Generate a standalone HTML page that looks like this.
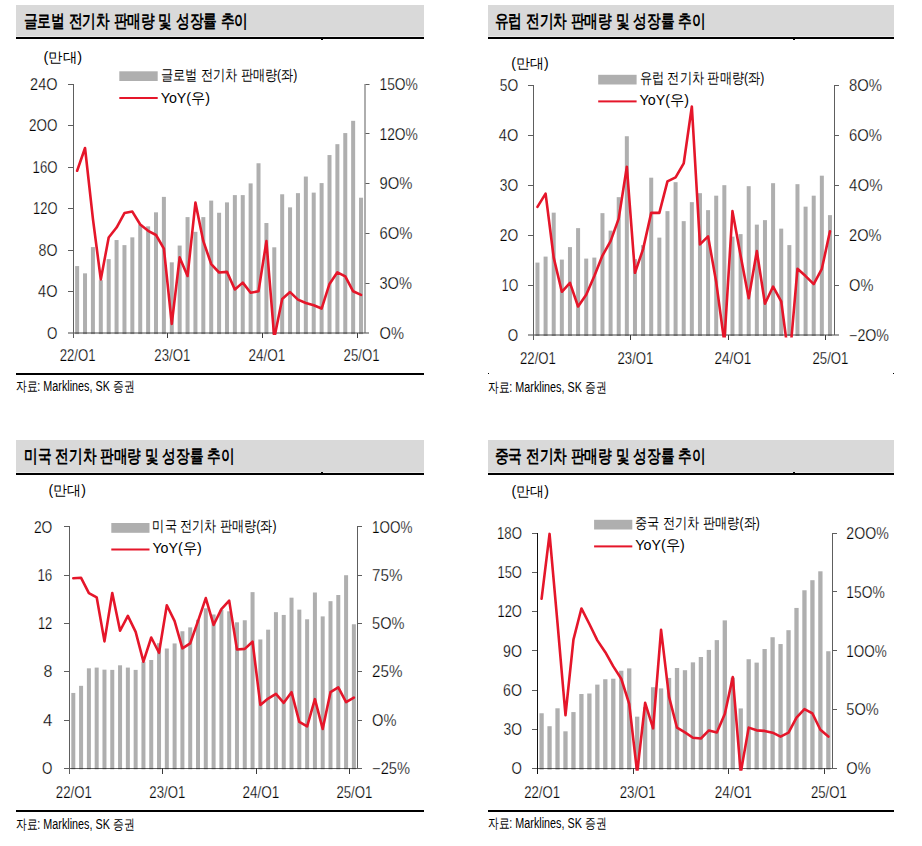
<!DOCTYPE html>
<html><head><meta charset="utf-8"><title>EV sales charts</title>
<style>
html,body{margin:0;padding:0;background:#fff;}
body{width:922px;height:846px;overflow:hidden;position:relative;font-family:"Liberation Sans", sans-serif;}
svg{position:absolute;left:0;top:0;}
svg text{font-family:"Liberation Sans", sans-serif;fill:#000;}
svg text.n{stroke:#fff;stroke-width:0.25px;}
</style></head>
<body>
<svg width="922" height="846" viewBox="0 0 922 846">
<rect x="16" y="5" width="408" height="31" fill="#d9d9d9"/>
<rect x="16" y="36" width="408" height="1" fill="#e9e9e9"/>
<rect x="16" y="37" width="408" height="2" fill="#000"/>
<text x="23.799999999999997" y="26.9" font-size="18" font-weight="bold" textLength="224.39999999999998" lengthAdjust="spacingAndGlyphs">글로벌 전기차 판매량 및 성장률 추이</text>
<text x="43.4" y="61.7" font-size="14" textLength="38.6" lengthAdjust="spacingAndGlyphs">(만대)</text>
<rect x="75.14" y="266.08" width="4.0" height="68.02" fill="#afafaf"/>
<rect x="83.03" y="273.34" width="4.0" height="60.76" fill="#afafaf"/>
<rect x="90.92" y="247.09" width="4.0" height="87.01" fill="#afafaf"/>
<rect x="98.8" y="280.19" width="4.0" height="53.91" fill="#afafaf"/>
<rect x="106.69" y="259.13" width="4.0" height="74.97" fill="#afafaf"/>
<rect x="114.57" y="240.04" width="4.0" height="94.06" fill="#afafaf"/>
<rect x="122.46" y="245.12" width="4.0" height="88.98" fill="#afafaf"/>
<rect x="130.34" y="237.34" width="4.0" height="96.76" fill="#afafaf"/>
<rect x="138.23" y="224.37" width="4.0" height="109.73" fill="#afafaf"/>
<rect x="146.12" y="226.34" width="4.0" height="107.76" fill="#afafaf"/>
<rect x="154" y="212.33" width="4.0" height="121.77" fill="#afafaf"/>
<rect x="161.89" y="196.88" width="4.0" height="137.22" fill="#afafaf"/>
<rect x="169.78" y="262.34" width="4.0" height="71.76" fill="#afafaf"/>
<rect x="177.66" y="245.54" width="4.0" height="88.56" fill="#afafaf"/>
<rect x="185.55" y="217.11" width="4.0" height="116.99" fill="#afafaf"/>
<rect x="193.43" y="231.84" width="4.0" height="102.26" fill="#afafaf"/>
<rect x="201.32" y="217.11" width="4.0" height="116.99" fill="#afafaf"/>
<rect x="209.2" y="200.61" width="4.0" height="133.49" fill="#afafaf"/>
<rect x="217.09" y="212.75" width="4.0" height="121.35" fill="#afafaf"/>
<rect x="224.98" y="202.38" width="4.0" height="131.73" fill="#afafaf"/>
<rect x="232.86" y="195.11" width="4.0" height="138.99" fill="#afafaf"/>
<rect x="240.75" y="195.11" width="4.0" height="138.99" fill="#afafaf"/>
<rect x="248.63" y="183.39" width="4.0" height="150.71" fill="#afafaf"/>
<rect x="256.52" y="163.26" width="4.0" height="170.84" fill="#afafaf"/>
<rect x="264.41" y="223.02" width="4.0" height="111.08" fill="#afafaf"/>
<rect x="272.29" y="247.3" width="4.0" height="86.8" fill="#afafaf"/>
<rect x="280.18" y="194.28" width="4.0" height="139.82" fill="#afafaf"/>
<rect x="288.06" y="207.36" width="4.0" height="126.75" fill="#afafaf"/>
<rect x="295.95" y="193.14" width="4.0" height="140.96" fill="#afafaf"/>
<rect x="303.84" y="176.54" width="4.0" height="157.56" fill="#afafaf"/>
<rect x="311.72" y="192.62" width="4.0" height="141.48" fill="#afafaf"/>
<rect x="319.61" y="183.08" width="4.0" height="151.02" fill="#afafaf"/>
<rect x="327.5" y="155.06" width="4.0" height="179.04" fill="#afafaf"/>
<rect x="335.38" y="144.17" width="4.0" height="189.93" fill="#afafaf"/>
<rect x="343.27" y="133.07" width="4.0" height="201.03" fill="#afafaf"/>
<rect x="351.15" y="120.83" width="4.0" height="213.27" fill="#afafaf"/>
<rect x="359.04" y="197.71" width="4.0" height="136.39" fill="#afafaf"/>
<rect x="68" y="332" width="301" height="2" fill="#000" fill-opacity="0.36"/>
<rect x="73" y="84" width="1" height="254" fill="#5e5e5e"/>
<text class="n" x="57.5" y="338.8" font-size="16" text-anchor="end" textLength="10.4" lengthAdjust="spacingAndGlyphs">O</text>
<rect x="68" y="291" width="5" height="1" fill="#5e5e5e"/>
<text class="n" x="57.5" y="297.3" font-size="16" text-anchor="end" textLength="19.4" lengthAdjust="spacingAndGlyphs">4O</text>
<rect x="68" y="250" width="5" height="1" fill="#5e5e5e"/>
<text class="n" x="57.5" y="255.8" font-size="16" text-anchor="end" textLength="18.9" lengthAdjust="spacingAndGlyphs">8O</text>
<rect x="68" y="208" width="5" height="1" fill="#5e5e5e"/>
<text class="n" x="57.5" y="214.3" font-size="16" text-anchor="end" textLength="24.4" lengthAdjust="spacingAndGlyphs">12O</text>
<rect x="68" y="167" width="5" height="1" fill="#5e5e5e"/>
<text class="n" x="57.5" y="172.8" font-size="16" text-anchor="end" textLength="24.9" lengthAdjust="spacingAndGlyphs">16O</text>
<rect x="68" y="125" width="5" height="1" fill="#5e5e5e"/>
<text class="n" x="57.5" y="131.3" font-size="16" text-anchor="end" textLength="28.4" lengthAdjust="spacingAndGlyphs">2OO</text>
<rect x="68" y="84" width="5" height="1" fill="#5e5e5e"/>
<text class="n" x="57.5" y="89.8" font-size="16" text-anchor="end" textLength="27.4" lengthAdjust="spacingAndGlyphs">24O</text>
<rect x="364.5" y="84" width="1" height="249" fill="#5e5e5e"/>
<text class="n" x="379.5" y="338.8" font-size="16" textLength="24.4" lengthAdjust="spacingAndGlyphs">O%</text>
<rect x="365.5" y="283" width="4" height="1" fill="#5e5e5e"/>
<text class="n" x="379.5" y="289" font-size="16" textLength="32.4" lengthAdjust="spacingAndGlyphs">3O%</text>
<rect x="365.5" y="233" width="4" height="1" fill="#5e5e5e"/>
<text class="n" x="379.5" y="239.2" font-size="16" textLength="32.9" lengthAdjust="spacingAndGlyphs">6O%</text>
<rect x="365.5" y="183" width="4" height="1" fill="#5e5e5e"/>
<text class="n" x="379.5" y="189.4" font-size="16" textLength="32.9" lengthAdjust="spacingAndGlyphs">9O%</text>
<rect x="365.5" y="133" width="4" height="1" fill="#5e5e5e"/>
<text class="n" x="379.5" y="139.6" font-size="16" textLength="38.4" lengthAdjust="spacingAndGlyphs">12O%</text>
<rect x="365.5" y="84" width="4" height="1" fill="#5e5e5e"/>
<text class="n" x="379.5" y="89.8" font-size="16" textLength="38.4" lengthAdjust="spacingAndGlyphs">15O%</text>
<text class="n" x="77.64" y="361" font-size="16" text-anchor="middle" textLength="35.9" lengthAdjust="spacingAndGlyphs">22/O1</text>
<rect x="167" y="333" width="1" height="5" fill="#3a3a3a"/>
<text class="n" x="172.28" y="361" font-size="16" text-anchor="middle" textLength="35.9" lengthAdjust="spacingAndGlyphs">23/O1</text>
<rect x="262" y="333" width="1" height="5" fill="#3a3a3a"/>
<text class="n" x="266.91" y="361" font-size="16" text-anchor="middle" textLength="36.9" lengthAdjust="spacingAndGlyphs">24/O1</text>
<rect x="357" y="333" width="1" height="5" fill="#3a3a3a"/>
<text class="n" x="361.54" y="361" font-size="16" text-anchor="middle" textLength="35.9" lengthAdjust="spacingAndGlyphs">25/O1</text>
<clipPath id="clc1"><rect x="70.2" y="74.1" width="297.78" height="260.9"/></clipPath>
<polyline clip-path="url(#clc1)" points="77.14,170.75 85.03,148.01 92.92,218.89 100.8,279.48 108.69,237.48 116.57,227.52 124.46,213.08 132.34,211.59 140.23,224.54 148.12,230.84 156,234.99 163.89,248.61 171.78,323.97 179.66,257.4 187.55,276 195.43,202.62 203.32,241.14 211.2,264.04 219.09,272.51 226.98,271.85 234.86,289.44 242.75,282.64 250.63,292.76 258.52,291.27 266.41,241.14 274.29,338.08 282.18,298.9 290.06,292.1 297.95,299.57 305.84,303.05 313.72,305.21 321.61,308.53 329.5,283.96 337.38,272.34 345.27,276.33 353.15,291.27 361.04,294.92" fill="none" stroke="#e5162a" stroke-width="2.6" stroke-linejoin="round" stroke-linecap="round"/>
<rect x="119.3" y="71.3" width="38.4" height="9.7" fill="#afafaf"/>
<text x="160.70000000000002" y="79.8" font-size="15" textLength="136.7" lengthAdjust="spacingAndGlyphs">글로벌 전기차 판매량(좌)</text>
<rect x="119.3" y="97" width="38.4" height="2" fill="#e5162a"/>
<text x="160.70000000000002" y="102.8" font-size="15" textLength="49.4" lengthAdjust="spacingAndGlyphs">YoY(우)</text>
<rect x="16" y="373" width="408" height="2" fill="#000"/>
<text x="15.8" y="391.4" font-size="14" textLength="118.6" lengthAdjust="spacingAndGlyphs">자료: Marklines, SK 증권</text>
<rect x="488" y="5" width="406" height="31" fill="#d9d9d9"/>
<rect x="488" y="36" width="406" height="1" fill="#e9e9e9"/>
<rect x="488" y="37" width="406" height="2" fill="#000"/>
<text x="494.59999999999997" y="26.9" font-size="18" font-weight="bold" textLength="210.89999999999998" lengthAdjust="spacingAndGlyphs">유럽 전기차 판매량 및 성장률 추이</text>
<text x="511.2" y="67.7" font-size="14" textLength="37.4" lengthAdjust="spacingAndGlyphs">(만대)</text>
<rect x="535.46" y="262.59" width="4.0" height="73.41" fill="#afafaf"/>
<rect x="543.59" y="256.59" width="4.0" height="79.41" fill="#afafaf"/>
<rect x="551.71" y="212.65" width="4.0" height="123.35" fill="#afafaf"/>
<rect x="559.84" y="259.59" width="4.0" height="76.41" fill="#afafaf"/>
<rect x="567.96" y="247.11" width="4.0" height="88.89" fill="#afafaf"/>
<rect x="576.09" y="228.13" width="4.0" height="107.87" fill="#afafaf"/>
<rect x="584.21" y="258.59" width="4.0" height="77.41" fill="#afafaf"/>
<rect x="592.34" y="257.59" width="4.0" height="78.41" fill="#afafaf"/>
<rect x="600.46" y="213.15" width="4.0" height="122.85" fill="#afafaf"/>
<rect x="608.59" y="230.63" width="4.0" height="105.37" fill="#afafaf"/>
<rect x="616.71" y="197.17" width="4.0" height="138.83" fill="#afafaf"/>
<rect x="624.84" y="136.24" width="4.0" height="199.76" fill="#afafaf"/>
<rect x="632.96" y="259.09" width="4.0" height="76.91" fill="#afafaf"/>
<rect x="641.09" y="245.11" width="4.0" height="90.89" fill="#afafaf"/>
<rect x="649.21" y="177.69" width="4.0" height="158.31" fill="#afafaf"/>
<rect x="657.34" y="237.62" width="4.0" height="98.38" fill="#afafaf"/>
<rect x="665.46" y="211.15" width="4.0" height="124.85" fill="#afafaf"/>
<rect x="673.59" y="182.18" width="4.0" height="153.82" fill="#afafaf"/>
<rect x="681.71" y="221.14" width="4.0" height="114.86" fill="#afafaf"/>
<rect x="689.84" y="202.16" width="4.0" height="133.84" fill="#afafaf"/>
<rect x="697.96" y="193.17" width="4.0" height="142.83" fill="#afafaf"/>
<rect x="706.09" y="210.15" width="4.0" height="125.85" fill="#afafaf"/>
<rect x="714.21" y="195.67" width="4.0" height="140.33" fill="#afafaf"/>
<rect x="722.34" y="185.18" width="4.0" height="150.82" fill="#afafaf"/>
<rect x="730.46" y="236.62" width="4.0" height="99.38" fill="#afafaf"/>
<rect x="738.59" y="234.12" width="4.0" height="101.88" fill="#afafaf"/>
<rect x="746.71" y="186.18" width="4.0" height="149.82" fill="#afafaf"/>
<rect x="754.84" y="224.63" width="4.0" height="111.37" fill="#afafaf"/>
<rect x="762.96" y="220.14" width="4.0" height="115.86" fill="#afafaf"/>
<rect x="771.09" y="183.18" width="4.0" height="152.82" fill="#afafaf"/>
<rect x="779.21" y="228.63" width="4.0" height="107.37" fill="#afafaf"/>
<rect x="787.34" y="245.11" width="4.0" height="90.89" fill="#afafaf"/>
<rect x="795.46" y="184.18" width="4.0" height="151.82" fill="#afafaf"/>
<rect x="803.59" y="206.65" width="4.0" height="129.35" fill="#afafaf"/>
<rect x="811.71" y="195.67" width="4.0" height="140.33" fill="#afafaf"/>
<rect x="819.84" y="175.69" width="4.0" height="160.31" fill="#afafaf"/>
<rect x="827.96" y="215.14" width="4.0" height="120.86" fill="#afafaf"/>
<rect x="528" y="334" width="311" height="2" fill="#000" fill-opacity="0.36"/>
<rect x="533" y="85" width="1" height="255" fill="#5e5e5e"/>
<text class="n" x="518.2" y="340.7" font-size="16" text-anchor="end" textLength="10.4" lengthAdjust="spacingAndGlyphs">O</text>
<rect x="528" y="285" width="5" height="1" fill="#5e5e5e"/>
<text class="n" x="518.2" y="290.76" font-size="16" text-anchor="end" textLength="16.4" lengthAdjust="spacingAndGlyphs">1O</text>
<rect x="528" y="235" width="5" height="1" fill="#5e5e5e"/>
<text class="n" x="518.2" y="240.82" font-size="16" text-anchor="end" textLength="18.4" lengthAdjust="spacingAndGlyphs">2O</text>
<rect x="528" y="185" width="5" height="1" fill="#5e5e5e"/>
<text class="n" x="518.2" y="190.88" font-size="16" text-anchor="end" textLength="18.4" lengthAdjust="spacingAndGlyphs">3O</text>
<rect x="528" y="135" width="5" height="1" fill="#5e5e5e"/>
<text class="n" x="518.2" y="140.94" font-size="16" text-anchor="end" textLength="19.4" lengthAdjust="spacingAndGlyphs">4O</text>
<rect x="528" y="85" width="5" height="1" fill="#5e5e5e"/>
<text class="n" x="518.2" y="91" font-size="16" text-anchor="end" textLength="18.4" lengthAdjust="spacingAndGlyphs">5O</text>
<rect x="834" y="85" width="1" height="250" fill="#5e5e5e"/>
<text class="n" x="849.1" y="340.7" font-size="16" textLength="39.9" lengthAdjust="spacingAndGlyphs">−2O%</text>
<rect x="835" y="285" width="4" height="1" fill="#5e5e5e"/>
<text class="n" x="849.1" y="290.76" font-size="16" textLength="24.4" lengthAdjust="spacingAndGlyphs">O%</text>
<rect x="835" y="235" width="4" height="1" fill="#5e5e5e"/>
<text class="n" x="849.1" y="240.82" font-size="16" textLength="32.4" lengthAdjust="spacingAndGlyphs">2O%</text>
<rect x="835" y="185" width="4" height="1" fill="#5e5e5e"/>
<text class="n" x="849.1" y="190.88" font-size="16" textLength="33.4" lengthAdjust="spacingAndGlyphs">4O%</text>
<rect x="835" y="135" width="4" height="1" fill="#5e5e5e"/>
<text class="n" x="849.1" y="140.94" font-size="16" textLength="32.9" lengthAdjust="spacingAndGlyphs">6O%</text>
<rect x="835" y="85" width="4" height="1" fill="#5e5e5e"/>
<text class="n" x="849.1" y="91" font-size="16" textLength="32.9" lengthAdjust="spacingAndGlyphs">8O%</text>
<text class="n" x="537.96" y="363.5" font-size="16" text-anchor="middle" textLength="35.9" lengthAdjust="spacingAndGlyphs">22/O1</text>
<rect x="630" y="335" width="1" height="5" fill="#3a3a3a"/>
<text class="n" x="635.46" y="363.5" font-size="16" text-anchor="middle" textLength="35.9" lengthAdjust="spacingAndGlyphs">23/O1</text>
<rect x="728" y="335" width="1" height="5" fill="#3a3a3a"/>
<text class="n" x="732.96" y="363.5" font-size="16" text-anchor="middle" textLength="36.9" lengthAdjust="spacingAndGlyphs">24/O1</text>
<rect x="825" y="335" width="1" height="5" fill="#3a3a3a"/>
<text class="n" x="830.46" y="363.5" font-size="16" text-anchor="middle" textLength="35.9" lengthAdjust="spacingAndGlyphs">25/O1</text>
<clipPath id="clc2"><rect x="530.4" y="75.3" width="306.62" height="262.1"/></clipPath>
<polyline clip-path="url(#clc2)" points="537.46,206.9 545.59,193.67 553.71,257.59 561.84,291.8 569.96,282.81 578.09,306.53 586.21,294.8 594.34,276.07 602.46,255.6 610.59,241.11 618.71,218.64 626.84,166.7 634.96,272.82 643.09,249.1 651.21,212.9 659.34,212.9 667.46,181.43 675.59,177.44 683.71,163.46 691.84,106.52 699.96,244.36 708.09,236.37 716.21,282.06 724.34,342.49 732.46,211.15 740.59,255.6 748.71,298.29 756.84,251.1 764.96,303.79 773.09,286.56 781.21,301.29 789.34,362.47 797.46,268.83 805.59,276.07 813.71,284.06 821.84,268.83 829.96,231.37" fill="none" stroke="#e5162a" stroke-width="2.6" stroke-linejoin="round" stroke-linecap="round"/>
<rect x="598.2" y="74.8" width="38.4" height="9.7" fill="#afafaf"/>
<text x="639.5999999999999" y="83.1" font-size="15" textLength="124.6" lengthAdjust="spacingAndGlyphs">유럽 전기차 판매량(좌)</text>
<rect x="598.2" y="100.4" width="38.4" height="2" fill="#e5162a"/>
<text x="639.5999999999999" y="105.0" font-size="15" textLength="49.4" lengthAdjust="spacingAndGlyphs">YoY(우)</text>
<rect x="488" y="373" width="1" height="1" fill="#000"/>
<rect x="893" y="373" width="1" height="1" fill="#000"/>
<text x="487.8" y="391.6" font-size="14" textLength="118.6" lengthAdjust="spacingAndGlyphs">자료: Marklines, SK 증권</text>
<rect x="16" y="440" width="408" height="32" fill="#d9d9d9"/>
<rect x="16" y="472" width="408" height="1" fill="#e9e9e9"/>
<rect x="16" y="473" width="408" height="2" fill="#000"/>
<text x="24.2" y="461.9" font-size="18" font-weight="bold" textLength="210.2" lengthAdjust="spacingAndGlyphs">미국 전기차 판매량 및 성장률 추이</text>
<text x="48.5" y="494.5" font-size="14" textLength="37.5" lengthAdjust="spacingAndGlyphs">(만대)</text>
<rect x="71.3" y="692.95" width="4.0" height="76.35" fill="#afafaf"/>
<rect x="79.09" y="685.83" width="4.0" height="83.47" fill="#afafaf"/>
<rect x="86.89" y="668.32" width="4.0" height="100.98" fill="#afafaf"/>
<rect x="94.68" y="667.59" width="4.0" height="101.71" fill="#afafaf"/>
<rect x="102.47" y="669.65" width="4.0" height="99.65" fill="#afafaf"/>
<rect x="110.27" y="669.89" width="4.0" height="99.41" fill="#afafaf"/>
<rect x="118.06" y="665.3" width="4.0" height="104" fill="#afafaf"/>
<rect x="125.86" y="667.59" width="4.0" height="101.71" fill="#afafaf"/>
<rect x="133.65" y="669.89" width="4.0" height="99.41" fill="#afafaf"/>
<rect x="141.44" y="661.68" width="4.0" height="107.62" fill="#afafaf"/>
<rect x="149.24" y="659.99" width="4.0" height="109.31" fill="#afafaf"/>
<rect x="157.03" y="643.2" width="4.0" height="126.1" fill="#afafaf"/>
<rect x="164.82" y="648.52" width="4.0" height="120.78" fill="#afafaf"/>
<rect x="172.62" y="643.44" width="4.0" height="125.86" fill="#afafaf"/>
<rect x="180.41" y="631.25" width="4.0" height="138.05" fill="#afafaf"/>
<rect x="188.21" y="627.38" width="4.0" height="141.92" fill="#afafaf"/>
<rect x="196" y="619.78" width="4.0" height="149.52" fill="#afafaf"/>
<rect x="203.79" y="608.31" width="4.0" height="160.99" fill="#afafaf"/>
<rect x="211.59" y="614.46" width="4.0" height="154.84" fill="#afafaf"/>
<rect x="219.38" y="609.88" width="4.0" height="159.42" fill="#afafaf"/>
<rect x="227.18" y="611.32" width="4.0" height="157.98" fill="#afafaf"/>
<rect x="234.97" y="622.31" width="4.0" height="146.99" fill="#afafaf"/>
<rect x="242.76" y="620.26" width="4.0" height="149.04" fill="#afafaf"/>
<rect x="250.56" y="592.13" width="4.0" height="177.17" fill="#afafaf"/>
<rect x="258.35" y="639.46" width="4.0" height="129.84" fill="#afafaf"/>
<rect x="266.15" y="629.68" width="4.0" height="139.62" fill="#afafaf"/>
<rect x="273.94" y="612.17" width="4.0" height="157.13" fill="#afafaf"/>
<rect x="281.74" y="614.95" width="4.0" height="154.35" fill="#afafaf"/>
<rect x="289.53" y="597.68" width="4.0" height="171.62" fill="#afafaf"/>
<rect x="297.32" y="609.63" width="4.0" height="159.67" fill="#afafaf"/>
<rect x="305.12" y="619.29" width="4.0" height="150.01" fill="#afafaf"/>
<rect x="312.91" y="592.49" width="4.0" height="176.81" fill="#afafaf"/>
<rect x="320.7" y="616.4" width="4.0" height="152.9" fill="#afafaf"/>
<rect x="328.5" y="601.18" width="4.0" height="168.12" fill="#afafaf"/>
<rect x="336.29" y="595.02" width="4.0" height="174.28" fill="#afafaf"/>
<rect x="344.09" y="575.22" width="4.0" height="194.08" fill="#afafaf"/>
<rect x="351.88" y="624.25" width="4.0" height="145.05" fill="#afafaf"/>
<rect x="64" y="768" width="298" height="1" fill="#000" fill-opacity="0.62"/>
<rect x="69" y="526" width="1" height="248" fill="#5e5e5e"/>
<text class="n" x="52.3" y="774" font-size="16" text-anchor="end" textLength="10.4" lengthAdjust="spacingAndGlyphs">O</text>
<rect x="64" y="720" width="5" height="1" fill="#5e5e5e"/>
<text class="n" x="52.3" y="725.7" font-size="16" text-anchor="end" textLength="9.4" lengthAdjust="spacingAndGlyphs">4</text>
<rect x="64" y="671" width="5" height="1" fill="#5e5e5e"/>
<text class="n" x="52.3" y="677.4" font-size="16" text-anchor="end" textLength="8.9" lengthAdjust="spacingAndGlyphs">8</text>
<rect x="64" y="623" width="5" height="1" fill="#5e5e5e"/>
<text class="n" x="52.3" y="629.1" font-size="16" text-anchor="end" textLength="14.4" lengthAdjust="spacingAndGlyphs">12</text>
<rect x="64" y="575" width="5" height="1" fill="#5e5e5e"/>
<text class="n" x="52.3" y="580.8" font-size="16" text-anchor="end" textLength="14.9" lengthAdjust="spacingAndGlyphs">16</text>
<rect x="64" y="526" width="5" height="1" fill="#5e5e5e"/>
<text class="n" x="52.3" y="532.5" font-size="16" text-anchor="end" textLength="18.4" lengthAdjust="spacingAndGlyphs">2O</text>
<rect x="357" y="526" width="1" height="242" fill="#5e5e5e"/>
<text class="n" x="372.1" y="774" font-size="16" textLength="37.9" lengthAdjust="spacingAndGlyphs">−25%</text>
<rect x="358" y="720" width="4" height="1" fill="#5e5e5e"/>
<text class="n" x="372.1" y="725.7" font-size="16" textLength="24.4" lengthAdjust="spacingAndGlyphs">O%</text>
<rect x="358" y="671" width="4" height="1" fill="#5e5e5e"/>
<text class="n" x="372.1" y="677.4" font-size="16" textLength="30.4" lengthAdjust="spacingAndGlyphs">25%</text>
<rect x="358" y="623" width="4" height="1" fill="#5e5e5e"/>
<text class="n" x="372.1" y="629.1" font-size="16" textLength="32.4" lengthAdjust="spacingAndGlyphs">5O%</text>
<rect x="358" y="575" width="4" height="1" fill="#5e5e5e"/>
<text class="n" x="372.1" y="580.8" font-size="16" textLength="30.4" lengthAdjust="spacingAndGlyphs">75%</text>
<rect x="358" y="526" width="4" height="1" fill="#5e5e5e"/>
<text class="n" x="372.1" y="532.5" font-size="16" textLength="40.4" lengthAdjust="spacingAndGlyphs">1OO%</text>
<text class="n" x="73.8" y="797.8" font-size="16" text-anchor="middle" textLength="35.9" lengthAdjust="spacingAndGlyphs">22/O1</text>
<rect x="162" y="768" width="1" height="6" fill="#3a3a3a"/>
<text class="n" x="167.32" y="797.8" font-size="16" text-anchor="middle" textLength="35.9" lengthAdjust="spacingAndGlyphs">23/O1</text>
<rect x="256" y="768" width="1" height="6" fill="#3a3a3a"/>
<text class="n" x="260.85" y="797.8" font-size="16" text-anchor="middle" textLength="36.9" lengthAdjust="spacingAndGlyphs">24/O1</text>
<rect x="349" y="768" width="1" height="6" fill="#3a3a3a"/>
<text class="n" x="354.38" y="797.8" font-size="16" text-anchor="middle" textLength="35.9" lengthAdjust="spacingAndGlyphs">25/O1</text>
<clipPath id="clc3"><rect x="66.4" y="516.8" width="294.38" height="253.7"/></clipPath>
<polyline clip-path="url(#clc3)" points="73.3,578.19 81.09,577.8 88.89,593.07 96.68,597.32 104.47,641.37 112.27,593.07 120.06,630.74 127.86,615.87 135.65,631.9 143.44,661.65 151.24,637.5 159.03,652.77 166.82,605.24 174.62,621.08 182.41,648.32 190.21,643.3 198,621.08 205.79,598.09 213.59,624.95 221.38,609.1 229.18,600.6 236.97,649.48 244.76,648.9 252.56,641.75 260.35,704.93 268.15,698.55 275.94,693.92 283.74,702.81 291.53,692.18 299.32,721.93 307.12,726.38 314.91,699.13 322.7,728.89 330.5,692.18 338.29,687.35 346.09,702.03 353.88,697.59" fill="none" stroke="#e5162a" stroke-width="2.6" stroke-linejoin="round" stroke-linecap="round"/>
<rect x="111.3" y="523.0" width="38.2" height="9.8" fill="#afafaf"/>
<text x="152.4" y="531.4" font-size="15" textLength="124.2" lengthAdjust="spacingAndGlyphs">미국 전기차 판매량(좌)</text>
<rect x="111.3" y="548.5" width="38.2" height="2" fill="#e5162a"/>
<text x="152.4" y="552.5" font-size="15" textLength="49.4" lengthAdjust="spacingAndGlyphs">YoY(우)</text>
<rect x="16" y="810" width="408" height="2" fill="#000"/>
<text x="15.8" y="828.8" font-size="14" textLength="118.6" lengthAdjust="spacingAndGlyphs">자료: Marklines, SK 증권</text>
<rect x="488" y="440" width="406" height="32" fill="#d9d9d9"/>
<rect x="488" y="472" width="406" height="1" fill="#e9e9e9"/>
<rect x="488" y="473" width="406" height="2" fill="#000"/>
<text x="494.59999999999997" y="461.9" font-size="18" font-weight="bold" textLength="210.89999999999998" lengthAdjust="spacingAndGlyphs">중국 전기차 판매량 및 성장률 추이</text>
<text x="511.4" y="496.3" font-size="14" textLength="37.5" lengthAdjust="spacingAndGlyphs">(만대)</text>
<rect x="539.43" y="713.26" width="4.3" height="56.34" fill="#afafaf"/>
<rect x="547.4" y="726.21" width="4.3" height="43.39" fill="#afafaf"/>
<rect x="555.37" y="708.29" width="4.3" height="61.31" fill="#afafaf"/>
<rect x="563.33" y="731.31" width="4.3" height="38.29" fill="#afafaf"/>
<rect x="571.3" y="712.08" width="4.3" height="57.52" fill="#afafaf"/>
<rect x="579.26" y="694.02" width="4.3" height="75.58" fill="#afafaf"/>
<rect x="587.23" y="693.5" width="4.3" height="76.1" fill="#afafaf"/>
<rect x="595.2" y="684.61" width="4.3" height="85" fill="#afafaf"/>
<rect x="603.16" y="679.24" width="4.3" height="90.36" fill="#afafaf"/>
<rect x="611.13" y="678.72" width="4.3" height="90.88" fill="#afafaf"/>
<rect x="619.09" y="670.74" width="4.3" height="98.86" fill="#afafaf"/>
<rect x="627.06" y="668.38" width="4.3" height="101.22" fill="#afafaf"/>
<rect x="635.03" y="716.66" width="4.3" height="52.94" fill="#afafaf"/>
<rect x="642.99" y="707.11" width="4.3" height="62.49" fill="#afafaf"/>
<rect x="650.96" y="687.22" width="4.3" height="82.38" fill="#afafaf"/>
<rect x="658.92" y="688.4" width="4.3" height="81.2" fill="#afafaf"/>
<rect x="666.89" y="677.93" width="4.3" height="91.67" fill="#afafaf"/>
<rect x="674.86" y="667.99" width="4.3" height="101.61" fill="#afafaf"/>
<rect x="682.82" y="670.21" width="4.3" height="99.39" fill="#afafaf"/>
<rect x="690.79" y="662.36" width="4.3" height="107.24" fill="#afafaf"/>
<rect x="698.75" y="657" width="4.3" height="112.6" fill="#afafaf"/>
<rect x="706.72" y="649.93" width="4.3" height="119.67" fill="#afafaf"/>
<rect x="714.69" y="640.12" width="4.3" height="129.48" fill="#afafaf"/>
<rect x="722.65" y="620.37" width="4.3" height="149.23" fill="#afafaf"/>
<rect x="730.62" y="677.67" width="4.3" height="91.93" fill="#afafaf"/>
<rect x="738.58" y="708.42" width="4.3" height="61.18" fill="#afafaf"/>
<rect x="746.55" y="659.22" width="4.3" height="110.38" fill="#afafaf"/>
<rect x="754.51" y="662.62" width="4.3" height="106.98" fill="#afafaf"/>
<rect x="762.48" y="649.02" width="4.3" height="120.58" fill="#afafaf"/>
<rect x="770.45" y="637.24" width="4.3" height="132.36" fill="#afafaf"/>
<rect x="778.41" y="644.05" width="4.3" height="125.55" fill="#afafaf"/>
<rect x="786.38" y="630.18" width="4.3" height="139.42" fill="#afafaf"/>
<rect x="794.35" y="607.94" width="4.3" height="161.66" fill="#afafaf"/>
<rect x="802.31" y="590.27" width="4.3" height="179.33" fill="#afafaf"/>
<rect x="810.28" y="580.2" width="4.3" height="189.4" fill="#afafaf"/>
<rect x="818.24" y="571.3" width="4.3" height="198.3" fill="#afafaf"/>
<rect x="826.21" y="651.24" width="4.3" height="118.36" fill="#afafaf"/>
<rect x="532" y="768" width="305" height="1" fill="#000" fill-opacity="0.62"/>
<rect x="537" y="533" width="1" height="241" fill="#111"/>
<text class="n" x="521.9" y="774.3" font-size="16" text-anchor="end" textLength="10.4" lengthAdjust="spacingAndGlyphs">O</text>
<rect x="532" y="729" width="5" height="1" fill="#5e5e5e"/>
<text class="n" x="521.9" y="735.05" font-size="16" text-anchor="end" textLength="18.4" lengthAdjust="spacingAndGlyphs">3O</text>
<rect x="532" y="690" width="5" height="1" fill="#5e5e5e"/>
<text class="n" x="521.9" y="695.8" font-size="16" text-anchor="end" textLength="18.9" lengthAdjust="spacingAndGlyphs">6O</text>
<rect x="532" y="650" width="5" height="1" fill="#5e5e5e"/>
<text class="n" x="521.9" y="656.55" font-size="16" text-anchor="end" textLength="18.9" lengthAdjust="spacingAndGlyphs">9O</text>
<rect x="532" y="611" width="5" height="1" fill="#5e5e5e"/>
<text class="n" x="521.9" y="617.3" font-size="16" text-anchor="end" textLength="24.4" lengthAdjust="spacingAndGlyphs">12O</text>
<rect x="532" y="572" width="5" height="1" fill="#5e5e5e"/>
<text class="n" x="521.9" y="578.05" font-size="16" text-anchor="end" textLength="24.4" lengthAdjust="spacingAndGlyphs">15O</text>
<rect x="532" y="533" width="5" height="1" fill="#5e5e5e"/>
<text class="n" x="521.9" y="538.8" font-size="16" text-anchor="end" textLength="24.9" lengthAdjust="spacingAndGlyphs">18O</text>
<rect x="832" y="533" width="1" height="235" fill="#5e5e5e"/>
<text class="n" x="846.3" y="774.3" font-size="16" textLength="24.4" lengthAdjust="spacingAndGlyphs">O%</text>
<rect x="833" y="709" width="4" height="1" fill="#5e5e5e"/>
<text class="n" x="846.3" y="715.43" font-size="16" textLength="32.4" lengthAdjust="spacingAndGlyphs">5O%</text>
<rect x="833" y="650" width="4" height="1" fill="#5e5e5e"/>
<text class="n" x="846.3" y="656.55" font-size="16" textLength="40.4" lengthAdjust="spacingAndGlyphs">1OO%</text>
<rect x="833" y="591" width="4" height="1" fill="#5e5e5e"/>
<text class="n" x="846.3" y="597.68" font-size="16" textLength="38.4" lengthAdjust="spacingAndGlyphs">15O%</text>
<rect x="833" y="533" width="4" height="1" fill="#5e5e5e"/>
<text class="n" x="846.3" y="538.8" font-size="16" textLength="42.4" lengthAdjust="spacingAndGlyphs">2OO%</text>
<text class="n" x="542.08" y="797.8" font-size="16" text-anchor="middle" textLength="35.9" lengthAdjust="spacingAndGlyphs">22/O1</text>
<rect x="633" y="768" width="1" height="6" fill="#3a3a3a"/>
<text class="n" x="637.68" y="797.8" font-size="16" text-anchor="middle" textLength="35.9" lengthAdjust="spacingAndGlyphs">23/O1</text>
<rect x="728" y="768" width="1" height="6" fill="#3a3a3a"/>
<text class="n" x="733.27" y="797.8" font-size="16" text-anchor="middle" textLength="36.9" lengthAdjust="spacingAndGlyphs">24/O1</text>
<rect x="824" y="768" width="1" height="6" fill="#3a3a3a"/>
<text class="n" x="828.86" y="797.8" font-size="16" text-anchor="middle" textLength="35.9" lengthAdjust="spacingAndGlyphs">25/O1</text>
<clipPath id="clc4"><rect x="534.6" y="523.1" width="300.74" height="247.7"/></clipPath>
<polyline clip-path="url(#clc4)" points="541.58,598.8 549.55,533.92 557.51,623.18 565.48,715.26 573.45,639.66 581.41,608.46 589.38,624 597.35,640.37 605.31,652.15 613.28,666.39 621.24,678.76 629.21,703.84 637.18,772.72 645.14,702.9 653.11,728.33 661.07,629.89 669.04,696.89 677,727.74 684.97,732.45 692.94,737.75 700.9,738.46 708.87,730.45 716.84,732.45 724.8,714.08 732.77,677.11 740.73,772.72 748.7,727.62 756.66,730.33 764.63,730.92 772.6,732.69 780.56,736.57 788.53,732.69 796.5,717.61 804.46,709.02 812.43,713.49 820.39,729.74 828.36,736.57" fill="none" stroke="#e5162a" stroke-width="2.6" stroke-linejoin="round" stroke-linecap="round"/>
<rect x="594.1" y="519.8" width="38.2" height="9.7" fill="#afafaf"/>
<text x="635.3" y="528.1999999999999" font-size="15" textLength="124.5" lengthAdjust="spacingAndGlyphs">중국 전기차 판매량(좌)</text>
<rect x="594.1" y="545.4" width="38.2" height="2" fill="#e5162a"/>
<text x="635.3" y="549.6" font-size="15" textLength="49.4" lengthAdjust="spacingAndGlyphs">YoY(우)</text>
<rect x="488" y="810" width="406" height="2" fill="#000"/>
<text x="487.8" y="828.2" font-size="14" textLength="118.6" lengthAdjust="spacingAndGlyphs">자료: Marklines, SK 증권</text>
<rect x="321" y="39" width="2" height="1" fill="#000"/>
<rect x="793" y="39" width="2" height="1" fill="#000"/>
<rect x="321" y="472" width="2" height="1" fill="#000"/>
<rect x="793" y="472" width="2" height="1" fill="#000"/>
</svg>
</body></html>
